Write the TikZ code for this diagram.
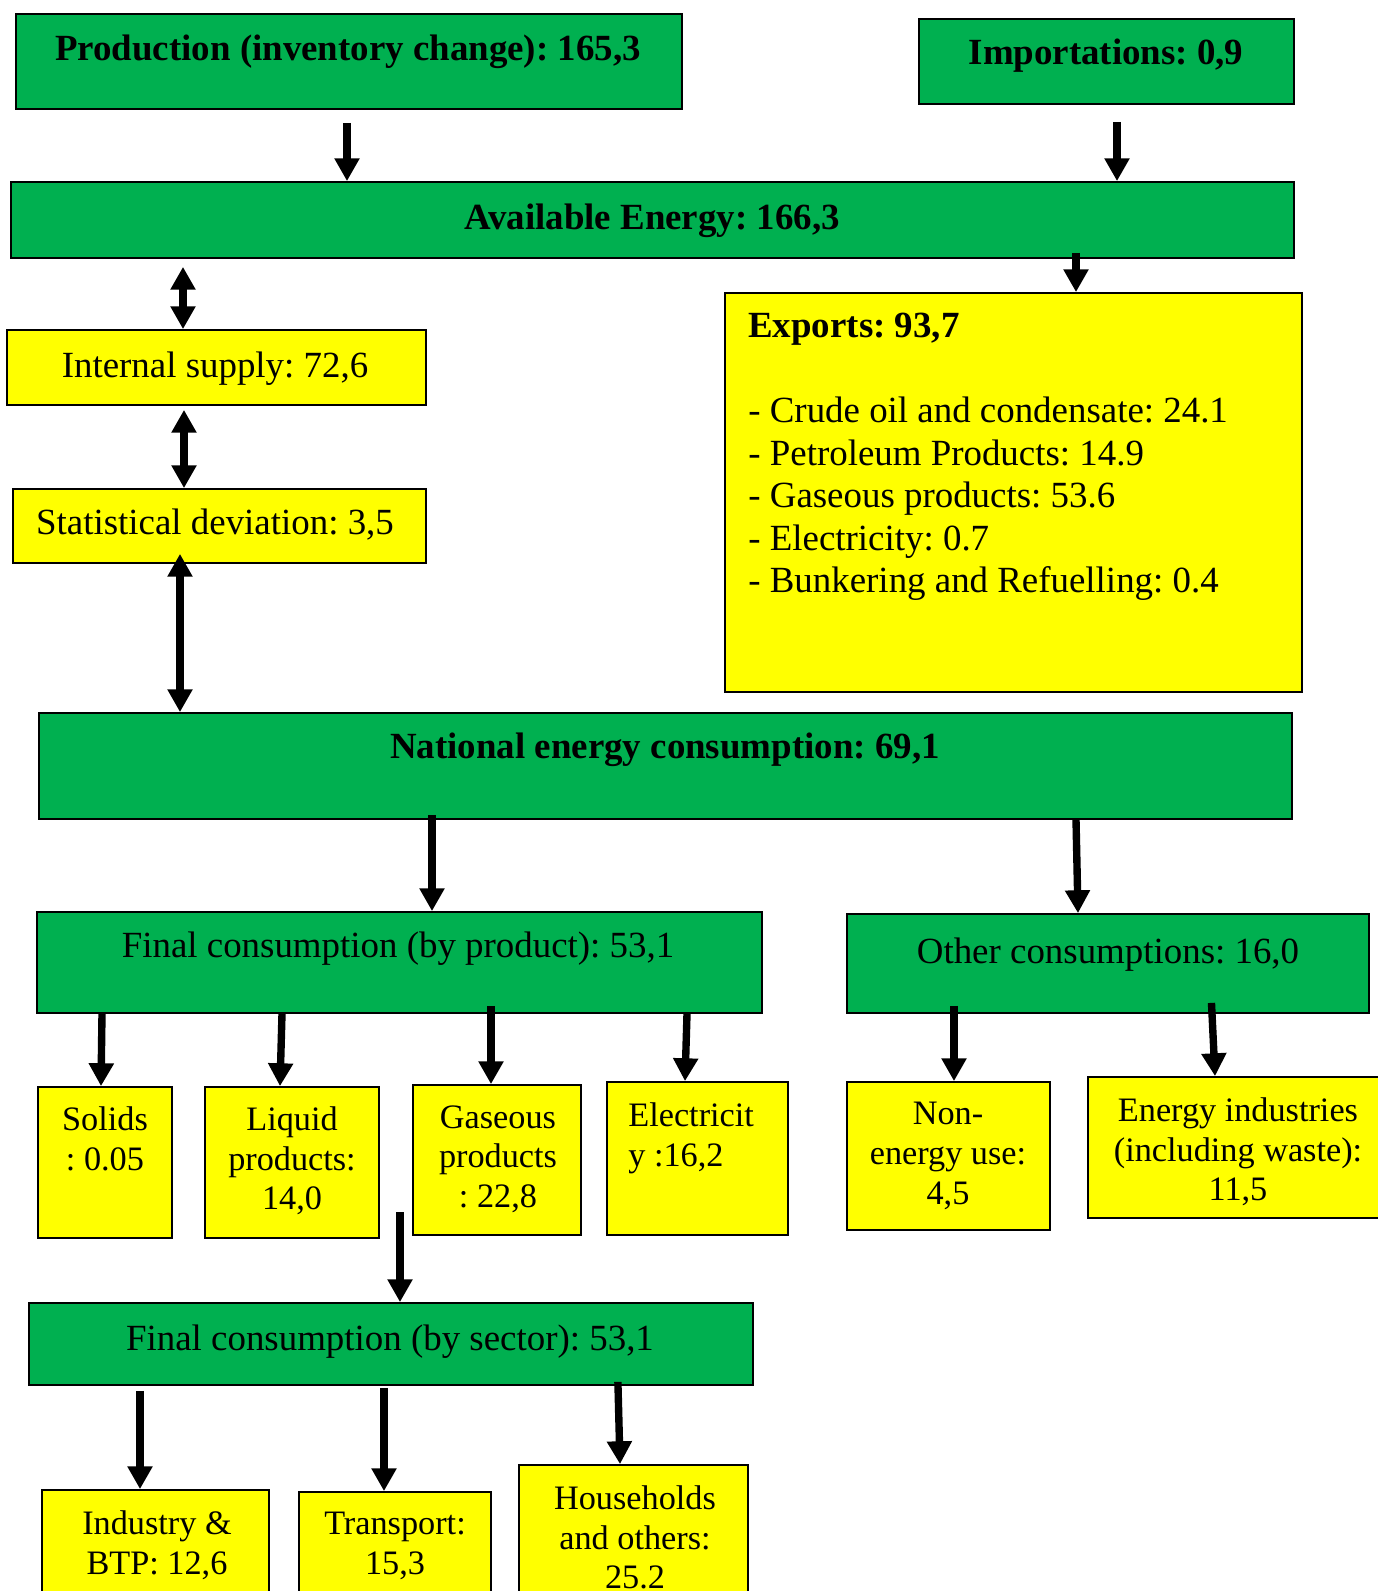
\documentclass[tikz,border=0pt]{standalone}
\usepackage{fontspec}
\setmainfont{Liberation Serif}
\usetikzlibrary{arrows.meta,fit}
\definecolor{boxgreen}{RGB}{0,176,80}
\definecolor{boxyellow}{RGB}{255,255,0}
\frenchspacing
\begin{document}
\begin{tikzpicture}[x=0.02cm,y=-0.02cm,
  gbox/.style={draw,line width=1pt,fill=boxgreen,inner sep=0pt},
  ybox/.style={draw,line width=1pt,fill=boxyellow,inner sep=0pt},
  txt/.style={inner sep=0pt,anchor=base,font=\fontsize{21}{24.2}\selectfont},
  small/.style={inner sep=0pt,anchor=north,align=center,font=\fontsize{19.5}{22.7}\selectfont},
  flow/.style={line width=4.2pt,-{Triangle[width=13.6pt,length=13pt]}},
  both/.style={line width=4.2pt,{Triangle[width=13.6pt,length=13pt]}-{Triangle[width=13.6pt,length=13pt]}}]
\useasboundingbox (0,0) rectangle (1378,1591);
\node[gbox,fit={(16,14) (682,109)}] (prod) {};
\node[gbox,fit={(919,19) (1294,104)}] (imp) {};
\node[gbox,fit={(11,182) (1294,258)}] (avail) {};
\node[ybox,fit={(7,330) (426,405)}] (intsup) {};
\node[ybox,fit={(13,489) (426,563)}] (statdev) {};
\node[ybox,fit={(725,293) (1302,692)}] (exports) {};
\node[gbox,fit={(39,713) (1292,819)}] (natcons) {};
\node[gbox,fit={(37,912) (762,1013)}] (finprod) {};
\node[gbox,fit={(847,914) (1369,1013)}] (othcons) {};
\node[ybox,fit={(38,1087) (172,1238)}] (solids) {};
\node[ybox,fit={(205,1087) (379,1238)}] (liquid) {};
\node[ybox,fit={(413,1085) (581,1235)}] (gaseous) {};
\node[ybox,fit={(607,1082) (788,1235)}] (elec) {};
\node[ybox,fit={(847,1082) (1050,1230)}] (nonen) {};
\node[ybox,fit={(1088,1077) (1390,1218)}] (enind) {};
\node[gbox,fit={(29,1303) (753,1385)}] (finsec) {};
\node[ybox,fit={(42,1490) (269,1610)}] (indus) {};
\node[ybox,fit={(299,1492) (491,1610)}] (transp) {};
\node[ybox,fit={(519,1465) (748,1610)}] (house) {};

\node[txt] (prodtxt) at (348,61) {\bfseries Production (inventory change): 165,3};
\node[txt] (imptxt) at (1106,65) {\bfseries Importations: 0,9};
\node[txt] (availtxt) at (652,230) {\bfseries Available Energy: 166,3};
\node[txt] (intsuptxt) at (215,377) {Internal supply: 72,6};
\node[txt] (statdevtxt) at (215,534) {Statistical deviation: 3,5};
\node[txt,anchor=north west,align=left] (exportstxt) at (748,313)
  {\textbf{Exports: 93,7}\\[24.2pt]
   - Crude oil and condensate: 24.1\\
   - Petroleum Products: 14.9\\
   - Gaseous products: 53.6\\
   - Electricity: 0.7\\
   - Bunkering and Refuelling: 0.4};
\node[txt] (natconstxt) at (665,758) {\bfseries National energy consumption: 69,1};
\node[txt] (finprodtxt) at (398,957) {Final consumption (by product): 53,1};
\node[txt] (othconstxt) at (1108,963) {Other consumptions: 16,0};
\node[small] (solidstxt) at (105,1106) {Solids\\: 0.05};
\node[small] (liquidtxt) at (292,1106) {Liquid\\products:\\14,0};
\node[small] (gaseoustxt) at (498,1105) {Gaseous\\products\\: 22,8};
\node[small,anchor=north west,align=left] (electxt) at (628,1102) {Electricit\\y :16,2};
\node[small] (nonentxt) at (948,1102) {Non-\\energy use:\\4,5};
\node[small] (enindtxt) at (1238,1097) {Energy industries\\(including waste):\\11,5};
\node[txt] (finsectxt) at (390,1350) {Final consumption (by sector): 53,1};
\node[small] (industxt) at (157,1510) {Industry \&\\BTP: 12,6};
\node[small] (transptxt) at (395,1512) {Transport:\\15,3};
\node[small] (housetxt) at (635,1485) {Households\\and others:\\25.2};

\coordinate (gap) at (400,1212);
\draw[flow,shorten <=0.26cm] (prod.south -| 347,0) -- (avail.north -| 347,0);
\draw[flow,shorten <=0.34cm] (imp.south -| 1117,0) -- (avail.north -| 1117,0);
\draw[both,shorten <=0.16cm] (avail.south -| 183,0) -- (intsup.north -| 183,0);
\draw[both,shorten <=0.08cm] (intsup.south -| 184,0) -- (statdev.north -| 184,0);
\draw[both,shorten <=-0.2cm] (statdev.south -| 180,0) -- (natcons.north -| 180,0);
\draw[flow,shorten <=-0.12cm] (avail.south -| 1076,0) -- (exports.north -| 1076,0);
\draw[flow,shorten <=-0.1cm] (natcons.south -| 432,0) -- (finprod.north -| 432,0);
\draw[flow] (natcons.south -| 1076,0) -- (othcons.north -| 1078,0);
\draw[flow] (finprod.south -| 102,0) -- (solids.north -| 101,0);
\draw[flow] (finprod.south -| 282,0) -- (liquid.north -| 280,0);
\draw[flow,shorten <=-0.16cm] (finprod.south -| 491,0) -- (gaseous.north -| 491,0);
\draw[flow] (finprod.south -| 687,0) -- (elec.north -| 685,0);
\draw[flow,shorten <=-0.16cm] (othcons.south -| 954,0) -- (nonen.north -| 954,0);
\draw[flow,shorten <=-0.22cm] (othcons.south -| 1212,0) -- (enind.north -| 1215,0);
\draw[flow] (gap) -- (finsec.north -| gap);
\draw[flow,shorten <=0.1cm] (finsec.south -| 140,0) -- (indus.north -| 140,0);
\draw[flow,shorten <=0.04cm] (finsec.south -| 384,0) -- (transp.north -| 384,0);
\draw[flow,shorten <=-0.08cm] (finsec.south -| 618,0) -- (house.north -| 620,0);
\end{tikzpicture}
\end{document}
